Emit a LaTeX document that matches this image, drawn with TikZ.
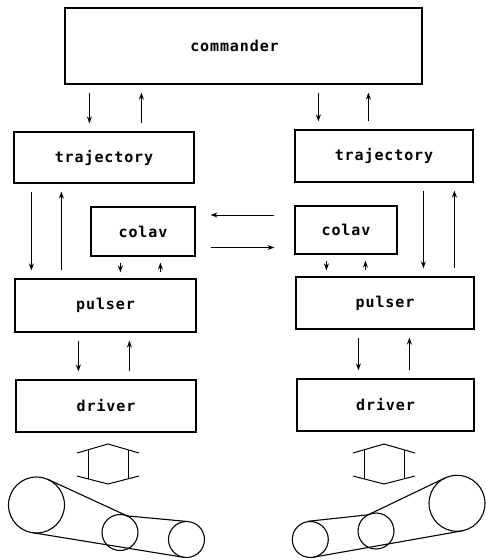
\documentclass[tikz,border=0pt]{standalone}
\usepackage{fontspec}
\newfontfamily\blockfont[LetterSpace=6]{DejaVu Sans Mono}
\usetikzlibrary{arrows.meta,calc}
\tikzset{
  box/.style={draw, line width=1.2pt, inner sep=0pt,
    font=\blockfont\bfseries\fontsize{15}{17}\selectfont},
  sig/.style={-{Stealth[length=7pt,width=5pt]}, line width=1pt,
    shorten <=8pt, shorten >=8pt},
  wheel/.style={line width=1.1pt}
}
\begin{document}
\begin{tikzpicture}[x=1pt,y=-1pt]
        \useasboundingbox (0,0) rectangle (485,560);
        %-----------------------------------------------
        \node[box, minimum width=357, minimum height=76] (cmd) at (243.5,46) {};
        \node[box, draw=none] (cmdText) at ([xshift=-9pt]cmd.center) {commander};
        %-----------------------------------------------
        \node[box, minimum width=180, minimum height=51] (trajL) at (104,157.5) {trajectory};
        \node[box, minimum width=178, minimum height=52] (trajR) at (384,156) {trajectory};
        \node[box, minimum width=104, minimum height=49] (colavL) at (143,231.5) {colav};
        \node[box, minimum width=102, minimum height=48] (colavR) at (346,230) {colav};
        \node[box, minimum width=181, minimum height=53] (pulsL) at (105.5,305.5) {pulser};
        \node[box, minimum width=178, minimum height=52] (pulsR) at (385,303) {pulser};
        \node[box, minimum width=180, minimum height=52] (drvL) at (106,406) {driver};
        \node[box, minimum width=177, minimum height=52] (drvR) at (385.5,405) {driver};
        %-----------------------------------------------
        % down / up pairs
        \foreach \up/\lo/\dx in {cmd/trajL/25,cmd/trajR/254,trajL/pulsL/18,trajR/pulsR/129,pulsL/drvL/64,pulsR/drvR/63}
        \draw[sig] ([xshift=\dx]\up.south west) -- ([xshift=\dx]\up.south west |- \lo.north);
        \foreach \up/\lo/\dx in {cmd/trajL/77,cmd/trajR/304,trajL/pulsL/48,trajR/pulsR/160,pulsL/drvL/115,pulsR/drvR/114}
        \draw[sig] ([xshift=\dx]\up.south west |- \lo.north) -- ([xshift=\dx]\up.south west);
        \foreach \up/\lo/\dx/\ux in {colavL/pulsL/30/70,colavR/pulsR/32/71} {
        \draw[sig, shorten <=6pt, shorten >=6pt] ([xshift=\dx]\up.south west) -- ([xshift=\dx]\up.south west |- \lo.north);
        \draw[sig, shorten <=6pt, shorten >=6pt] ([xshift=\ux]\up.south west |- \lo.north) -- ([xshift=\ux]\up.south west);
        }
        % colav <-> colav
        \draw[sig, shorten <=20pt, shorten >=15pt] ([yshift=15pt]colavR.west) -- ([yshift=15pt]colavR.west -| colavL.east);
        \draw[sig, shorten <=15pt, shorten >=20pt] ([yshift=-16pt]colavL.east) -- ([yshift=-16pt]colavL.east -| colavR.west);
        %-----------------------------------------------
        % hollow double arrows
        \foreach \cx in {108,384} {
        \draw[line width=1pt] (\cx-31,453) -- (\cx,444) -- (\cx+31,453);
        \draw[line width=1pt] (\cx-31,476) -- (\cx,484) -- (\cx+31,476);
        \draw[line width=1pt] (\cx-20,449.8) -- (\cx-20,478.8) (\cx+20,449.8) -- (\cx+20,478.8);
        }
        %-----------------------------------------------
        % pulleys and belts
        \draw[wheel] (36.5,505) circle[radius=28pt] (120,532.5) circle[radius=18pt] (186.5,539.5) circle[radius=18pt];
        \draw[wheel] (48.2,479.5) -- (127.2,515.9) -- (188.5,521.6) (32,532.6) -- (183.6,557.3);
        \draw[wheel] (457,503.3) circle[radius=28pt] (376,531) circle[radius=18pt] (310.3,539.5) circle[radius=18pt];
        \draw[wheel] (444.9,478) -- (368.2,514.8) -- (307.9,521.3) (461.9,530.9) -- (313.4,557.2);
\end{tikzpicture}
\end{document}
